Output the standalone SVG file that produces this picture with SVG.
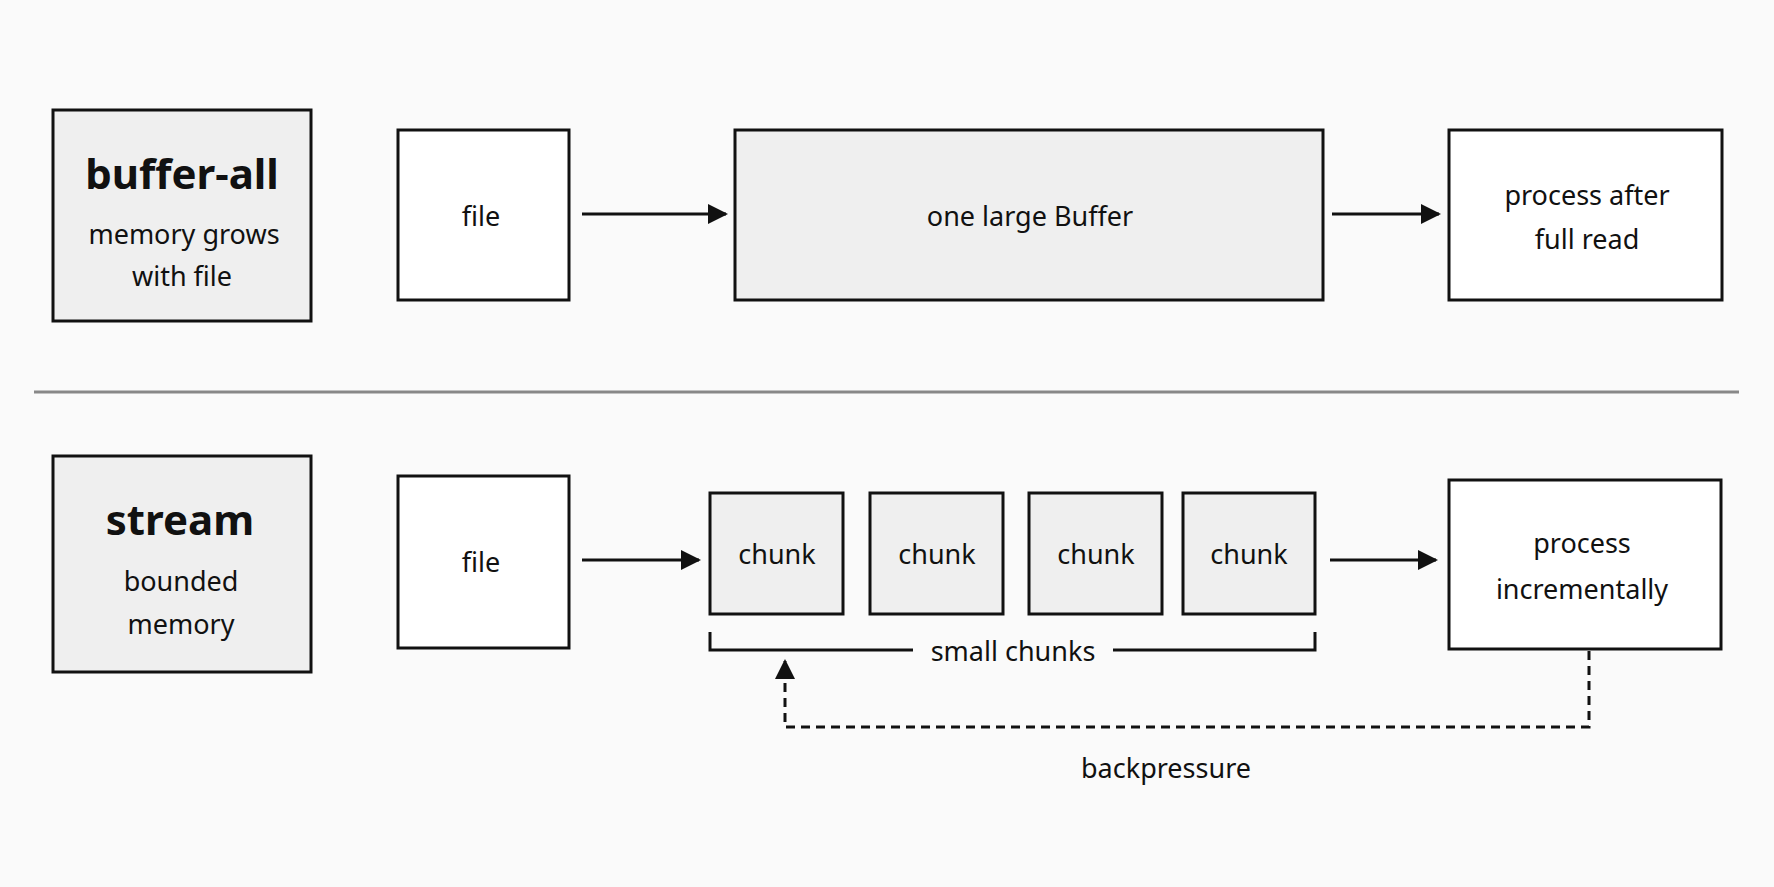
<svg xmlns="http://www.w3.org/2000/svg" width="1774" height="887" viewBox="0 0 1774 887">
<style>
.b{stroke:#111;stroke-width:3;}
.g{fill:#efefef;}
.w{fill:#fff;}
text{font-family:"Noto Sans","DejaVu Sans",sans-serif;fill:#111;text-anchor:middle;font-size:27px;}
.t{font-size:42px;font-weight:bold;}
.c{stroke:#111;stroke-width:3;fill:none;}
</style>
<defs>
<marker id="ah" viewBox="0 0 10 10" refX="9" refY="5" markerWidth="7" markerHeight="7" markerUnits="userSpaceOnUse" orient="auto"><path d="M0,0L10,5L0,10z" fill="#111"/></marker>
<marker id="a" viewBox="0 0 10 10" refX="9" refY="5" markerWidth="20" markerHeight="20" markerUnits="userSpaceOnUse" orient="auto"><path d="M0,0L10,5L0,10z" fill="#111"/></marker>
</defs>
<rect width="1774" height="887" fill="#fafafa"/>
<line x1="34" y1="392" x2="1739" y2="392" stroke="#888" stroke-width="3"/>
<g id="buffer-all"><rect class="b g" x="53" y="110" width="258" height="211"/><text class="t" x="182" y="189">buffer-all</text><text x="184" y="244">memory grows</text><text x="182" y="286">with file</text></g>
<g id="file1"><rect class="b w" x="398" y="130" width="171" height="170"/><text x="481" y="226">file</text></g>
<g id="buffer"><rect class="b g" x="735" y="130" width="588" height="170"/><text x="1030" y="226">one large Buffer</text></g>
<g id="process1"><rect class="b w" x="1449" y="130" width="273" height="170"/><text x="1587" y="205">process after</text><text x="1587" y="249">full read</text></g>
<g id="stream"><rect class="b g" x="53" y="456" width="258" height="216"/><text class="t" x="180" y="535">stream</text><text x="181" y="591">bounded</text><text x="181" y="634">memory</text></g>
<g id="file2"><rect class="b w" x="398" y="476" width="171" height="172"/><text x="481" y="572">file</text></g>
<g id="chunks">
<rect class="b g" x="710" y="493" width="133" height="121"/><text x="777" y="564">chunk</text>
<rect class="b g" x="870" y="493" width="133" height="121"/><text x="937" y="564">chunk</text>
<rect class="b g" x="1029" y="493" width="133" height="121"/><text x="1096" y="564">chunk</text>
<rect class="b g" x="1183" y="493" width="132" height="121"/><text x="1249" y="564">chunk</text>
</g>
<g id="process2"><rect class="b w" x="1449" y="480" width="272" height="169"/><text x="1582" y="553">process</text><text x="1582" y="599">incrementally</text></g>
<g id="labels"><text x="1013" y="661">small chunks</text><text x="1166" y="778">backpressure</text></g>
<g id="connectors">
<line class="c" x1="582" y1="214" x2="726" y2="214" marker-end="url(#a)"/>
<line class="c" x1="1332" y1="214" x2="1439" y2="214" marker-end="url(#a)"/>
<line class="c" x1="582" y1="560" x2="699" y2="560" marker-end="url(#a)"/>
<line class="c" x1="1330" y1="560" x2="1436" y2="560" marker-end="url(#a)"/>
<path class="c" d="M710,632V650H913M1113,650H1315V632"/>
<path class="c" d="M1589,651V727H785V661" stroke-dasharray="9,6" marker-end="url(#a)"/>
</g>
</svg>
